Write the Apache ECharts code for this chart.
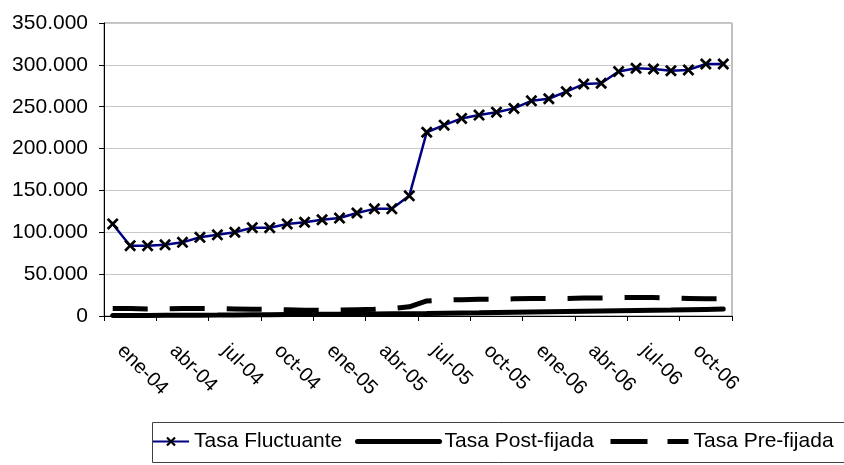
<!DOCTYPE html>
<html>
<head>
<meta charset="utf-8">
<script src="https://cdn.jsdelivr.net/npm/echarts@6/dist/echarts.min.js"></script>
<style>
html,body{margin:0;padding:0;background:#fff;}
#chart{width:844px;height:465px;}
</style>
</head>
<body>
<div id="chart"></div>
<script>
const categories = [
  'ene-04','feb-04','mar-04','abr-04','may-04','jun-04','jul-04','ago-04','sep-04','oct-04','nov-04','dic-04',
  'ene-05','feb-05','mar-05','abr-05','may-05','jun-05','jul-05','ago-05','sep-05','oct-05','nov-05','dic-05',
  'ene-06','feb-06','mar-06','abr-06','may-06','jun-06','jul-06','ago-06','sep-06','oct-06','nov-06','dic-06'
];
const tasaFluctuante = [
  110000, 84000, 84000, 85000, 88000, 94000, 97000, 100000, 105500, 105500, 110000, 112000,
  115000, 117000, 123000, 128000, 128000, 143500, 219500, 228000, 236000, 240000, 243500, 248000,
  257000, 259500, 268000, 277000, 278000, 292000, 296000, 295000, 293000, 294000, 301000, 301000
];
const tasaPostFijada = [
  500, 600, 700, 800, 900, 1000, 1100, 1300, 1500, 1600, 1800, 1900,
  2000, 2100, 2300, 2400, 2600, 2800, 3000, 3300, 3600, 3800, 4100, 4400,
  4700, 5000, 5300, 5600, 5900, 6200, 6500, 6800, 7100, 7500, 7900, 8300
];
const tasaPreFijada = [
  9000, 9000, 8500, 8500, 9000, 9000, 9000, 8500, 8000, 8000, 7500, 7000,
  7000, 7000, 7500, 8000, 9000, 11000, 18000, 19000, 19500, 20000, 20000, 20500,
  21000, 21000, 21000, 21500, 21500, 22000, 22000, 22000, 21500, 21000, 20500, 20500
];
const seriesNames = ['Tasa Fluctuante', 'Tasa Post-fijada', 'Tasa Pre-fijada'];

const FONT = "'Liberation Sans', Arial, sans-serif";
const X_PATH = 'path://M0,1.6 L1.6,0 L5,3.4 L8.4,0 L10,1.6 L6.6,5 L10,8.4 L8.4,10 L5,6.6 L1.6,10 L0,8.4 L3.4,5 Z';

const chart = echarts.init(document.getElementById('chart'), null, {renderer: 'canvas'});
const legendText = {color: '#000', fontSize: 21, fontFamily: FONT};
chart.setOption({
  animation: false,
  backgroundColor: '#fff',
  grid: {left: 104, right: 112, top: 23, bottom: 149, show: true, borderColor: '#808080', borderWidth: 1, backgroundColor: 'transparent'},
  graphic: [{
    type: 'rect', left: 152, top: 422, z: -1,
    shape: {width: 720, height: 40},
    style: {fill: '#fff', stroke: '#404040', lineWidth: 1}
  }],
  legend: [
    {data: [seriesNames[0]], left: 152, top: 431, padding: 0, itemWidth: 36, itemHeight: 12, itemGap: 0, textStyle: legendText,
     lineStyle: {color: '#000080', width: 2}},
    {data: [seriesNames[1]], left: 355, top: 431, padding: 0, itemWidth: 82, itemHeight: 12, itemGap: 0, textStyle: legendText,
     itemStyle: {opacity: 0}, lineStyle: {color: '#000', width: 5, type: 'solid'}},
    {data: [seriesNames[2]], left: 608, top: 431, padding: 0, itemWidth: 78, itemHeight: 12, itemGap: 0, textStyle: legendText,
     itemStyle: {opacity: 0}, lineStyle: {color: '#000', width: 5, type: [37, 20]}}
  ],
  xAxis: {
    type: 'category',
    data: categories,
    boundaryGap: true,
    axisLine: {lineStyle: {color: '#000', width: 1}},
    axisTick: {show: true, interval: 2, length: 5, inside: false, lineStyle: {color: '#000'}},
    axisLabel: {interval: 2, rotate: -45, margin: 24, padding: [0, 0, 0, 11], color: '#000', fontSize: 20, fontFamily: FONT},
    splitLine: {show: false}
  },
  yAxis: {
    type: 'value',
    min: 0, max: 350000, interval: 50000,
    axisLine: {show: true, lineStyle: {color: '#000', width: 1}},
    axisTick: {show: true, length: 5, lineStyle: {color: '#000'}},
    axisLabel: {
      margin: 16, color: '#000', fontSize: 21, fontFamily: FONT,
      formatter: v => v === 0 ? '0' : String(v).replace(/\B(?=(\d{3})+(?!\d))/g, '.')
    },
    splitLine: {show: true, lineStyle: {color: '#c8c8c8', width: 1}}
  },
  series: [
    {
      name: seriesNames[0], type: 'line', data: tasaFluctuante,
      symbol: X_PATH, symbolSize: 12, showSymbol: true, showAllSymbol: true,
      itemStyle: {color: '#000'},
      lineStyle: {color: '#000080', width: 2.5},
      z: 5
    },
    {
      name: seriesNames[1], type: 'line', data: tasaPostFijada,
      symbol: 'none', itemStyle: {color: '#000'},
      lineStyle: {color: '#000', width: 5, cap: 'round'}
    },
    {
      name: seriesNames[2], type: 'line', data: tasaPreFijada,
      symbol: 'none', itemStyle: {color: '#000'},
      lineStyle: {color: '#000', width: 5, type: [35, 22], cap: 'butt'}
    }
  ]
});
</script>
</body>
</html>
